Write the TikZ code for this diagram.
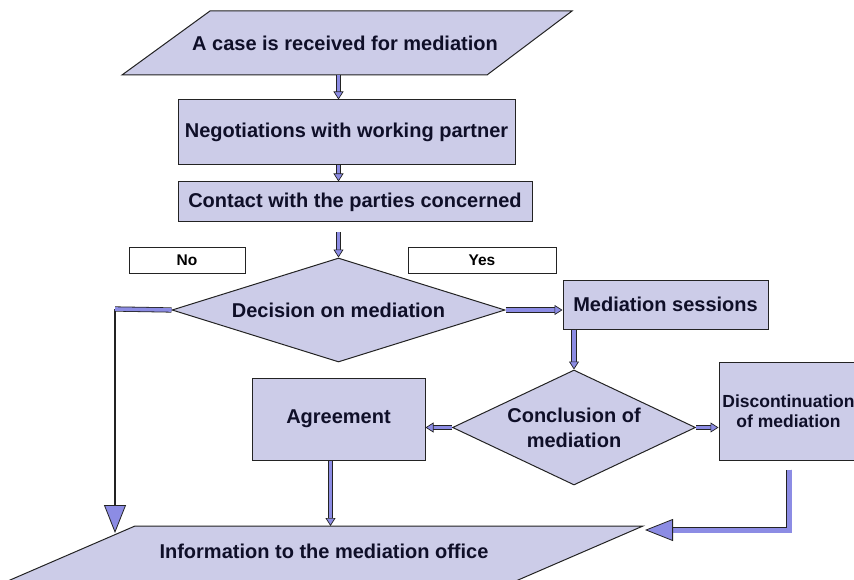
\documentclass[tikz,border=0pt]{standalone}
\usepackage{fontspec}
\setmainfont{Liberation Sans}
\usetikzlibrary{shapes.geometric,arrows.meta,calc}
\definecolor{shapec}{RGB}{204,204,232}
\definecolor{arrowc}{RGB}{140,140,228}
\definecolor{edgec}{RGB}{35,35,35}
\definecolor{textc}{RGB}{15,15,40}
\begin{document}
\begin{tikzpicture}[x=1pt,y=-1pt,
  shp/.style={draw=edgec, line width=1pt, fill=shapec},
  bigfont/.style={font=\bfseries\fontsize{20}{25}\selectfont, text=textc},
  boxn/.style={shp, rectangle, inner sep=0pt, bigfont, align=center},
  dia/.style={shp, diamond, inner sep=0pt, bigfont, align=center},
  lbl/.style={draw=edgec, line width=0.8pt, fill=white, inner sep=0pt,
    font=\bfseries\fontsize{15.5}{18}\selectfont},
  txt/.style={inner sep=0pt, bigfont, align=center},
  blk/.style={draw=edgec, line width=0.8pt, double=arrowc, double distance=3.8pt,
    -{Triangle[length=8pt,width=10pt,line width=0.7pt,fill=arrowc]}},
  bar/.style={draw=edgec, line width=0.8pt, double=arrowc, double distance=3.6pt},
  wideblk/.style={draw=edgec, line width=0.9pt, double=arrowc, double distance=5pt},
  bigtip/.style={-{Triangle[length=28pt,width=22pt,line width=0.8pt,fill=arrowc]}},
]
\useasboundingbox (0,0) rectangle (854,580);
\clip (0,0) rectangle (854,580);

% top parallelogram
\draw[shp] (210,11) -- (572,11) -- (487,75) -- (122,75) -- cycle;
\node[txt, minimum width=362, minimum height=64] (case) at (345,43) {A case is received for mediation};

\node[boxn, minimum width=337, minimum height=65] (neg) at (346.5,132.5) {Negotiations with working partner};
\node[boxn, minimum width=354, minimum height=40] (contact) at (355,202) {Contact with the parties concerned};

\node[lbl, minimum width=116, minimum height=26] (no) at (187,260) {No};
\node[lbl, minimum width=148, minimum height=26] (yes) at (482,260) {Yes};

\node[dia, shape aspect=3.2, minimum width=333, minimum height=104] (dec) at (338.5,310) {Decision on mediation};
\node[boxn, minimum width=205, minimum height=49] (med) at (665.5,304.5) {Mediation sessions};
\node[dia, shape aspect=2.11, minimum width=243, minimum height=115] (conc) at (574,427.5) {Conclusion of\\mediation};
\node[boxn, minimum width=173, minimum height=82] (agree) at (338.5,419) {Agreement};
\node[boxn, minimum width=139, minimum height=98, font=\bfseries\fontsize{17.5}{20}\selectfont] (disc) at (788.5,411) {Discontinuation\\of mediation};

% bottom parallelogram
\coordinate (i1) at (135,526);
\coordinate (i2) at (643,526);
\coordinate (i3) at (495,590);
\coordinate (i4) at (-13,590);
\draw[shp] (i1) -- (i2) -- (i3) -- (i4) -- cycle;
\node[txt] (info) at (324,551) {Information to the mediation office};

% connectors
\draw[blk] (case.south -| dec.north) -- (neg.north -| dec.north);
\draw[blk] (neg.south -| dec.north) -- (contact.north -| dec.north);
\draw[blk] ([yshift=-10pt]contact.south -| dec.north) -- (dec.north);

\coordinate (nocorner) at (115,309);
\coordinate (notip) at (115,533);
\draw[edgec, line width=1.4pt, bigtip] (nocorner) -- (notip);
\draw[bar] (dec.west) -- (nocorner);

\draw[blk] (dec.east) -- (dec.east -| med.west);
\draw[blk] (conc.north |- med.south) -- (conc.north);
\draw[blk] (conc.west) -- (conc.west -| agree.east);
\draw[blk] (conc.east) -- (conc.east -| disc.west);
\draw[blk] ([xshift=-8pt]agree.south) -- ([xshift=-8pt]agree.south |- i1);

\coordinate (dcorner) at (789,530);
\coordinate (dtip) at (645,530);
\draw[wideblk, bigtip] ([yshift=-9pt]disc.south -| dcorner) -- (dcorner) -- (dtip);
\end{tikzpicture}
\end{document}
